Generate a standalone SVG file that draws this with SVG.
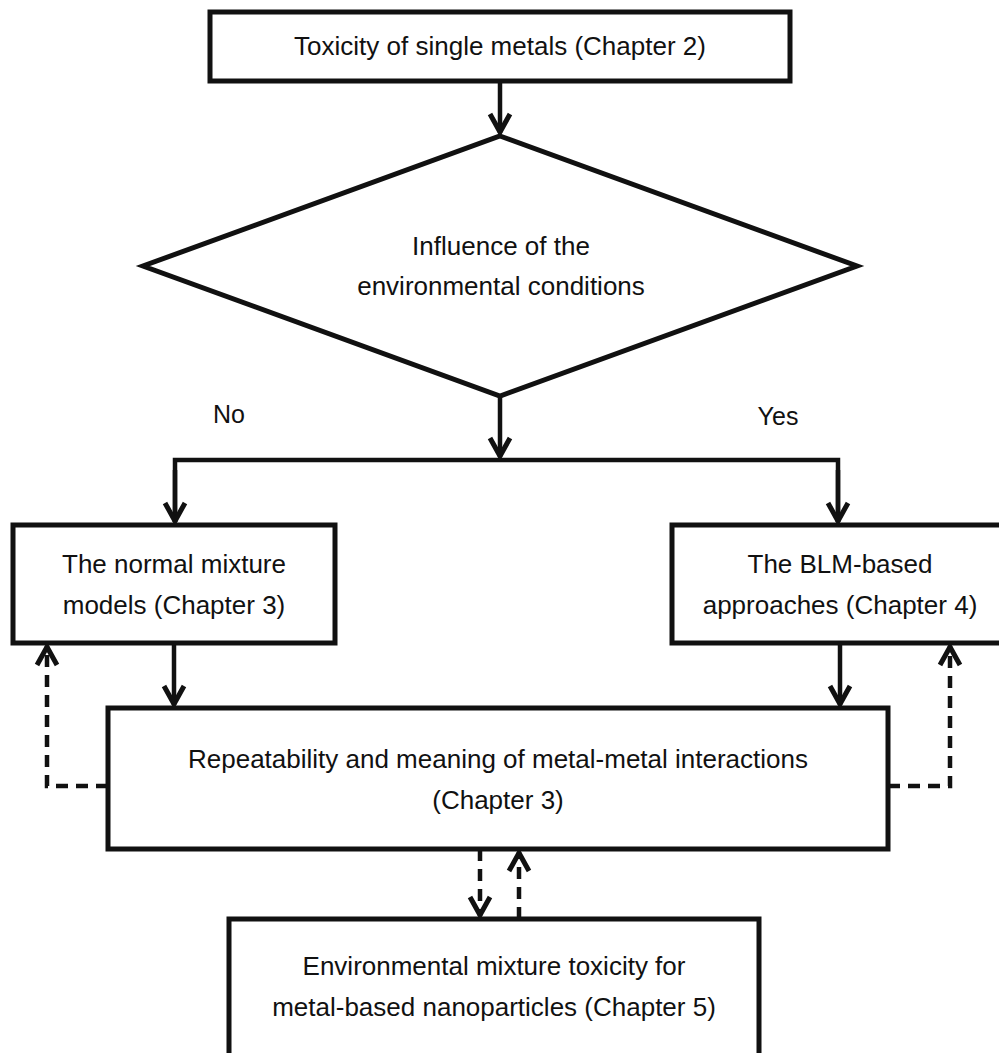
<svg xmlns="http://www.w3.org/2000/svg" width="999" height="1053" viewBox="0 0 999 1053">
<style>
.box{fill:#fff;stroke:#111;stroke-width:5}
.ln{fill:none;stroke:#111;stroke-width:4.5}
.dash{fill:none;stroke:#111;stroke-width:4.5;stroke-dasharray:12 8}
text{font-family:"Liberation Sans",Arial,sans-serif;font-size:26px;fill:#111;text-anchor:middle}
</style>
<defs>
<marker id="ah" markerUnits="userSpaceOnUse" markerWidth="40" markerHeight="40" refX="0" refY="0" orient="auto" overflow="visible">
<path d="M-19,-10 L-1,0 L-19,10" fill="none" stroke="#111" stroke-width="5" stroke-linejoin="miter"/>
</marker>
</defs>
<rect width="999" height="1053" fill="#fff"/>
<g id="connectors">
<path class="ln" d="M500,81 V133" marker-end="url(#ah)"/>
<path class="ln" d="M500,396 V457" marker-end="url(#ah)"/>
<path class="ln" d="M175,522 V460 H838 V522"/>
<path class="ln" d="M175,470 V522" marker-end="url(#ah)"/>
<path class="ln" d="M838,470 V522" marker-end="url(#ah)"/>
<path class="ln" d="M174,643 V705" marker-end="url(#ah)"/>
<path class="ln" d="M840,643 V705" marker-end="url(#ah)"/>
<path class="dash" d="M108,786 H47 V646" marker-end="url(#ah)"/>
<path class="dash" d="M888,786 H950 V646" marker-end="url(#ah)"/>
<path class="dash" d="M480,849 V916" marker-end="url(#ah)"/>
<path class="dash" d="M519,919 V852" marker-end="url(#ah)"/>
</g>
<g id="n1"><rect class="box" x="210" y="12" width="580" height="69"/><text x="500" y="55">Toxicity of single metals (Chapter 2)</text></g>
<g id="n2"><polygon class="box" points="500,136 857,266 500,396 143,266"/><text x="501" y="255">Influence of the</text><text x="501" y="295">environmental conditions</text></g>
<g id="lbl-no"><text x="229" y="423" style="font-size:25px">No</text></g>
<g id="lbl-yes"><text x="778" y="425" style="font-size:25px">Yes</text></g>
<g id="n3"><rect class="box" x="13" y="525" width="322" height="118"/><text x="174" y="573">The normal mixture</text><text x="174" y="614">models (Chapter 3)</text></g>
<g id="n4"><rect class="box" x="672" y="525" width="336" height="118"/><text x="840" y="573">The BLM-based</text><text x="840" y="614">approaches (Chapter 4)</text></g>
<g id="n5"><rect class="box" x="108" y="708" width="780" height="141"/><text x="498" y="768">Repeatability and meaning of metal-metal interactions</text><text x="498" y="809">(Chapter 3)</text></g>
<g id="n6"><rect class="box" x="229" y="919" width="530" height="150"/><text x="494" y="975">Environmental mixture toxicity for</text><text x="494" y="1016">metal-based nanoparticles (Chapter 5)</text></g>
</svg>
